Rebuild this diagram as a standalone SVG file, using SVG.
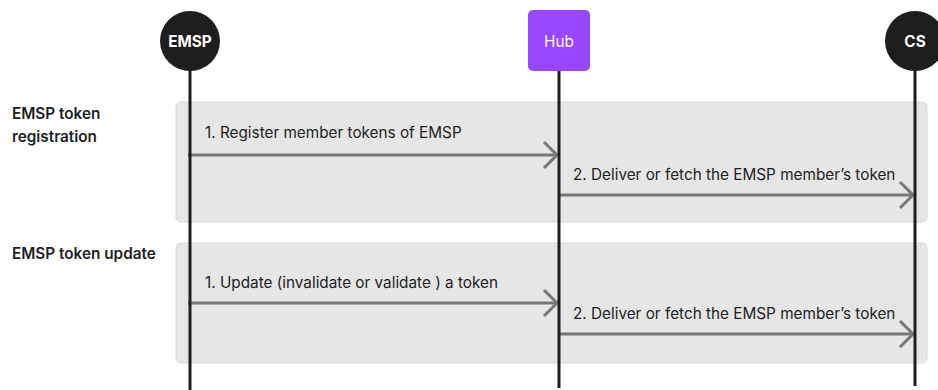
<svg xmlns="http://www.w3.org/2000/svg" width="938" height="390" viewBox="0 0 938 390">
  <style>
    .section { fill: #e6e6e6; stroke: #d6d6d6; stroke-width: 1; }
    .lifeline { stroke: #1e1e1e; stroke-width: 3; }
    .msg { stroke: #777777; stroke-width: 3; fill: none; }
    .head { stroke: #777777; stroke-width: 3; fill: none; stroke-linejoin: miter; }
    .label { font-family: Inter, "Liberation Sans", sans-serif; font-size: 15.3px; fill: #1e1e1e; }
    .title { font-family: Inter, "Liberation Sans", sans-serif; font-size: 15.3px; font-weight: 600; fill: #1e1e1e; }
    .actor { font-family: Inter, "Liberation Sans", sans-serif; font-size: 15.3px; fill: #ffffff; text-anchor: middle; }
  </style>
  <rect width="938" height="390" fill="#ffffff"/>

  <!-- interaction frames -->
  <g id="frame-registration">
    <rect class="section" x="176" y="102" width="751" height="120" rx="5"/>
    <text class="title" x="12" y="119">EMSP token</text>
    <text class="title" x="12" y="142">registration</text>
  </g>
  <g id="frame-update">
    <rect class="section" x="176" y="243" width="751" height="120" rx="5"/>
    <text class="title" x="12" y="259">EMSP token update</text>
  </g>

  <!-- messages -->
  <g id="connectors">
    <g id="msg-register">
      <line class="msg" x1="188" y1="155" x2="557" y2="155"/>
      <polyline class="head" points="544,142 557,155 544,168"/>
      <text class="label" x="205" y="138">1. Register member tokens of EMSP</text>
    </g>
    <g id="msg-deliver-1">
      <line class="msg" x1="559" y1="195" x2="913" y2="195"/>
      <polyline class="head" points="900,182 913,195 900,208"/>
      <text class="label" x="573" y="180">2. Deliver or fetch the EMSP member’s token</text>
    </g>
    <g id="msg-update">
      <line class="msg" x1="188" y1="303" x2="557" y2="303"/>
      <polyline class="head" points="544,290 557,303 544,316"/>
      <text class="label" x="205" y="288">1. Update (invalidate or validate ) a token</text>
    </g>
    <g id="msg-deliver-2">
      <line class="msg" x1="559" y1="334" x2="913" y2="334"/>
      <polyline class="head" points="900,321 913,334 900,347"/>
      <text class="label" x="573" y="319">2. Deliver or fetch the EMSP member’s token</text>
    </g>
  </g>

  <!-- participants with lifelines -->
  <g id="emsp">
    <line class="lifeline" x1="190" y1="60" x2="190" y2="390"/>
    <circle cx="190" cy="41" r="30" fill="#1e1e1e"/>
    <text class="actor" x="190" y="47" font-weight="700">EMSP</text>
  </g>
  <g id="hub">
    <line class="lifeline" x1="559" y1="60" x2="559" y2="388"/>
    <rect x="528" y="10" width="62" height="61" rx="5" fill="#9747ff"/>
    <text class="actor" x="559" y="47">Hub</text>
  </g>
  <g id="cs">
    <line class="lifeline" x1="915" y1="60" x2="915" y2="386"/>
    <circle cx="915" cy="41" r="30" fill="#1e1e1e"/>
    <text class="actor" x="915" y="47" font-weight="700">CS</text>
  </g>
</svg>
